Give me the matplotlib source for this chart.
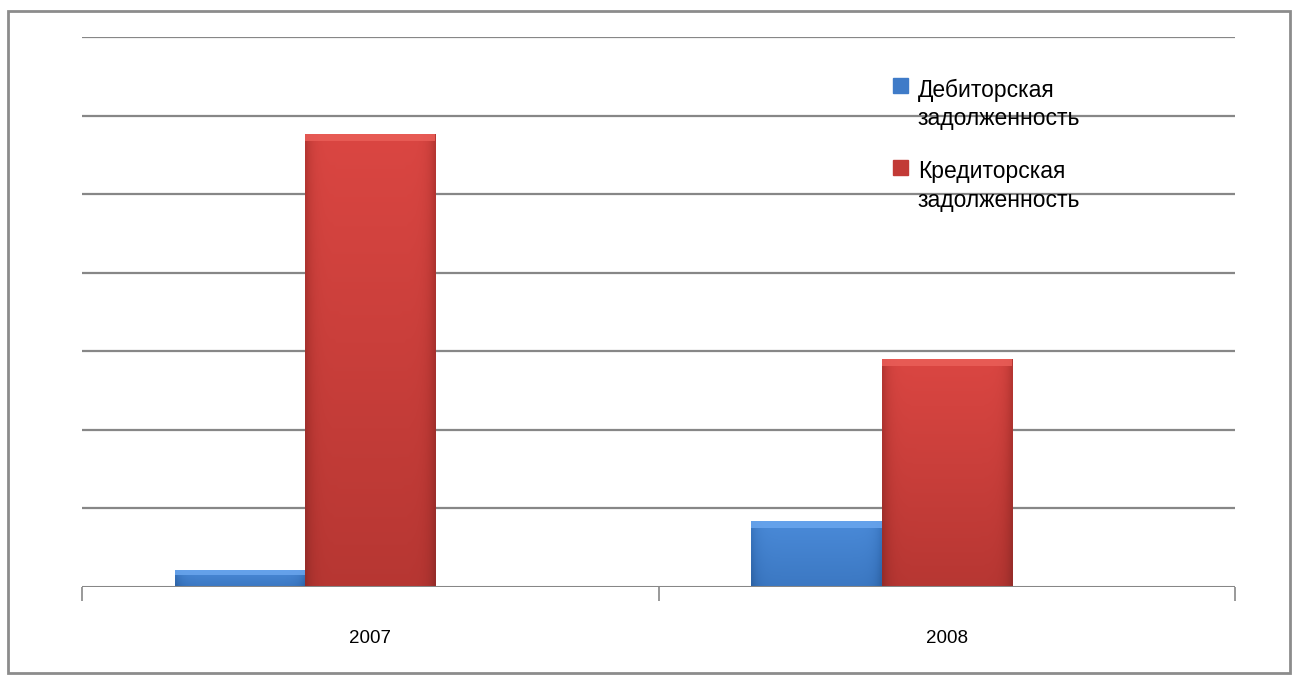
import matplotlib
matplotlib.use("Agg")
import matplotlib.pyplot as plt
import numpy as np
from matplotlib.patches import Rectangle
from matplotlib.colors import LinearSegmentedColormap

categories = ["2007", "2008"]
series_names = [["Дебиторская", "задолженность"], ["Кредиторская", "задолженность"]]
debit = [0.22, 0.84]
credit = [5.77, 2.90]

plt.rcParams['font.family'] = ['Liberation Sans', 'DejaVu Sans']

fig = plt.figure(figsize=(13, 6.8), dpi=100)
ax = fig.add_axes([82/1300, 1-587/680, (1235-82)/1300, 550/680])

ax.set_xlim(-0.5, 1.5)
ax.set_ylim(0, 7)

for y in range(1, 8):
    ax.axhline(y, color='#878787', lw=1.6, zorder=1)

w = 0.226
x = np.arange(len(categories))
cmap_blue = LinearSegmentedColormap.from_list('b', ['#2A5E9E', '#3A76C0', '#4A8AD8'])
cmap_red = LinearSegmentedColormap.from_list('r', ['#8E2A27', '#B33531', '#DA4642'])

def gbar(ax, xc, h, cmap, top):
    bars = ax.bar(xc, h, width=w, color=cmap(0.6), zorder=3, edgecolor='none')
    n = 60
    horiz = np.abs(np.linspace(-1, 1, n))[None, :]
    for b in bars:
        x0, wd, hh = b.get_x(), b.get_width(), b.get_height()
        vert = np.linspace(0, 1, n)[:, None]
        val = 0.55 + 0.45 * vert - 0.45 * horiz**10
        im = ax.imshow(val, extent=[x0, x0+wd, 0, hh], origin='lower', aspect='auto',
                       cmap=cmap, vmin=0, vmax=1, zorder=4, interpolation='bilinear')
        im.set_clip_path(b)
        th = min(0.09, hh * 0.3)
        ax.add_patch(Rectangle((x0, hh - th), wd, th, color=top, alpha=0.85, zorder=5, lw=0))

gbar(ax, x - w, debit, cmap_blue, '#6AA6EE')
gbar(ax, x, credit, cmap_red, '#EA5E58')

ax.axhline(0, color='#878787', lw=2.2, zorder=6)

for s in ax.spines.values():
    s.set_visible(False)
ax.set_yticks([])
ax.set_xticks([-0.5, 0.5, 1.5])
ax.set_xticklabels([])
ax.tick_params(axis='x', length=10, width=1.2, color='#878787', direction='out')
for xi, lab in zip(x, categories):
    ax.text(xi, -0.65, lab, ha='center', va='center', fontsize=13.5, color='#000000')

# legend
square_tops = [78, 160]
baselines = [(97, 125.5), (178, 206.5)]
for nm, c, st, bl in zip(series_names, ['#3F7BC8', '#C23A36'], square_tops, baselines):
    fig.patches.append(Rectangle((893/1300, 1 - (st + 15)/680), 15/1300, 15/680,
                                 transform=fig.transFigure, color=c, figure=fig))
    for line, b in zip(nm, bl):
        fig.text(918/1300, 1 - b/680, line, fontsize=16.5, va='baseline', ha='left',
                 color='#000000')

border = Rectangle((8/1300, 1-673/680), (1290-8)/1300, (673-11)/680, transform=fig.transFigure,
                   fill=False, edgecolor='#8C8C8C', lw=2, figure=fig)
fig.patches.append(border)

fig.savefig('out.png', dpi=100)
